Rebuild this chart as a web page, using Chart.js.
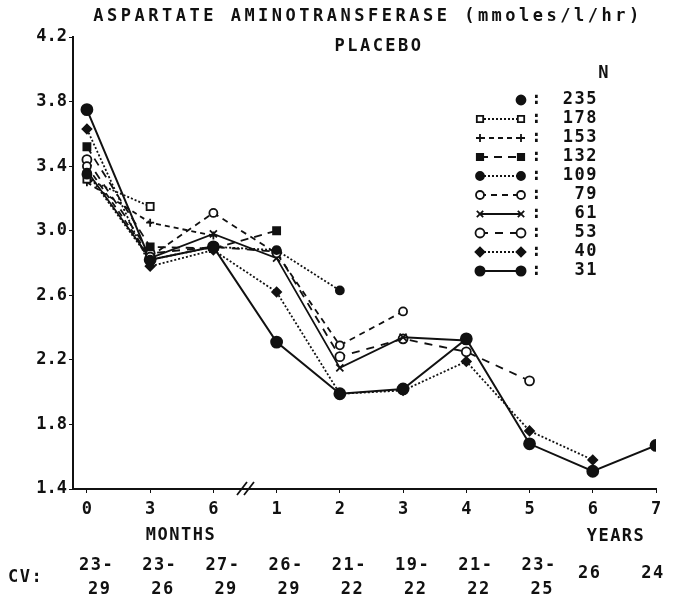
<!DOCTYPE html>
<html>
<head>
<meta charset="utf-8">
<script src="https://cdn.jsdelivr.net/npm/chart.js@4"></script>
<style>
  body { margin: 0; background: #fff; }
  canvas { display: block; }
</style>
</head>
<body>
<canvas id="astChart" width="676" height="605"></canvas>
<script>
// time points: 0, 3, 6 months then 1..7 years
const timeLabels = ['0', '3', '6', '1', '2', '3', '4', '5', '6', '7'];
const cvTop = ['23-', '23-', '27-', '26-', '21-', '19-', '21-', '23-', '26', '24'];
const cvBottom = ['29', '26', '29', '29', '22', '22', '22', '25', '', ''];

// mean AST per cohort (N = number of patients)
const cohortN = ['235', '178', '153', '132', '109', '79', '61', '53', '40', '31'];
const n235 = [3.35];
const n178 = [3.32, 3.15];
const n153 = [3.30, 3.05, 2.97];
const n132 = [3.52, 2.90, 2.89, 3.00];
const n109 = [3.36, 2.82, 2.90, 2.88, 2.63];
const n79 = [3.40, 2.84, 3.11, 2.86, 2.29, 2.50];
const n61 = [3.37, 2.83, 2.98, 2.83, 2.15, 2.34, 2.32];
const n53 = [3.44, 2.86, 2.90, 2.87, 2.22, 2.33, 2.25, 2.07];
const n40 = [3.63, 2.78, 2.88, 2.62, 1.99, 2.01, 2.19, 1.76, 1.58];
const n31 = [3.75, 2.82, 2.90, 2.31, 1.99, 2.02, 2.33, 1.68, 1.51, 1.67];

const FONT = '"DejaVu Sans Mono", monospace';
const INK = '#111';

function series(label, values, style) {
    return Object.assign({
        label: label,
        data: values.map((v, i) => ({ x: i, y: v })),
        borderColor: INK,
        backgroundColor: INK,
        pointBorderColor: INK,
        pointBackgroundColor: INK,
        borderWidth: 1.8,
        pointBorderWidth: 1.8,
        tension: 0
    }, style);
}

const datasets = [
    series('235', n235, { pointStyle: 'circle', pointRadius: 4.5, showLine: false }),
    series('178', n178, { pointStyle: 'rect', pointRadius: 5, pointBackgroundColor: '#fff', borderDash: [2, 2] }),
    series('153', n153, { pointStyle: 'cross', pointRadius: 4, borderDash: [5, 4] }),
    series('132', n132, { pointStyle: 'rect', pointRadius: 5, borderDash: [8, 6] }),
    series('109', n109, { pointStyle: 'circle', pointRadius: 4, borderDash: [2, 2] }),
    series('79', n79, { pointStyle: 'circle', pointRadius: 4, pointBackgroundColor: '#fff', borderDash: [6, 5] }),
    series('61', n61, { pointStyle: 'crossRot', pointRadius: 5 }),
    series('53', n53, { pointStyle: 'circle', pointRadius: 4.5, pointBackgroundColor: '#fff', borderDash: [8, 7] }),
    series('40', n40, { pointStyle: 'rectRot', pointRadius: 4.5, borderDash: [2, 2] }),
    series('31', n31, { pointStyle: 'circle', pointRadius: 5.5, borderWidth: 2 })
];

const textPlugin = {
    id: 'plotText',
    afterDraw(chart) {
        const ctx = chart.ctx;
        const xs = chart.scales.x;
        const axisY = chart.chartArea.bottom;
        ctx.save();
        ctx.fillStyle = INK;
        ctx.strokeStyle = INK;
        ctx.textBaseline = 'middle';

        // titles
        ctx.font = 'bold 17px ' + FONT;
        ctx.textAlign = 'center';
        ctx.letterSpacing = '3.5px';
        ctx.fillText('ASPARTATE AMINOTRANSFERASE (mmoles/l/hr)', 368, 17);
        ctx.letterSpacing = '2.5px';
        ctx.fillText('PLACEBO', 379, 47);

        // axis captions
        ctx.letterSpacing = '1.5px';
        ctx.fillText('MONTHS', 181, 536);
        ctx.fillText('YEARS', 616, 537);

        // CV rows
        ctx.letterSpacing = '1.5px';
        ctx.textAlign = 'left';
        ctx.fillText('CV:', 8, 578);
        cvTop.forEach((t, i) => {
            const px = xs.getPixelForValue(i);
            if (cvBottom[i]) {
                ctx.fillText(t, px - 8, 566);
                ctx.fillText(cvBottom[i], px + 1, 590);
            } else {
                ctx.textAlign = 'center';
                ctx.fillText(t, px - 3, 574);
                ctx.textAlign = 'left';
            }
        });

        // axis break between months and years
        const bx = xs.getPixelForValue(2.5);
        ctx.lineWidth = 1.8;
        ctx.beginPath();
        ctx.moveTo(bx - 8, axisY + 6); ctx.lineTo(bx + 2, axisY - 7);
        ctx.moveTo(bx - 1, axisY + 6); ctx.lineTo(bx + 9, axisY - 7);
        ctx.stroke();

        // legend
        ctx.letterSpacing = '1.5px';
        ctx.textAlign = 'center';
        ctx.fillText('N', 604, 74);
        chart.data.datasets.forEach((ds, i) => {
            const y = 100 + i * 19;
            const x0 = 480, x1 = 521;
            const pt = {
                pointStyle: ds.pointStyle,
                radius: Math.min(ds.pointRadius, 4.5),
                borderWidth: ds.pointBorderWidth,
                rotation: 0
            };
            if (ds.showLine !== false) {
                ctx.lineWidth = ds.borderWidth;
                ctx.setLineDash(ds.borderDash || []);
                ctx.beginPath();
                ctx.moveTo(x0, y);
                ctx.lineTo(x1, y);
                ctx.stroke();
                ctx.setLineDash([]);
                ctx.fillStyle = ds.pointBackgroundColor;
                Chart.helpers.drawPoint(ctx, pt, x0, y);
            }
            ctx.fillStyle = ds.pointBackgroundColor;
            Chart.helpers.drawPoint(ctx, pt, x1, y);
            ctx.fillStyle = INK;
            ctx.textAlign = 'center';
            ctx.fillText(':', 537, y);
            ctx.textAlign = 'right';
            ctx.fillText(ds.label, 598, y);
        });
        ctx.restore();
    }
};

new Chart(document.getElementById('astChart').getContext('2d'), {
    type: 'line',
    data: { datasets: datasets },
    options: {
        responsive: false,
        animation: false,
        devicePixelRatio: 1,
        layout: { padding: { top: 37, right: 20, left: 0, bottom: 0 } },
        plugins: { legend: { display: false }, tooltip: { enabled: false } },
        scales: {
            x: {
                type: 'linear',
                min: -0.22,
                max: 9,
                afterBuildTicks: s => { s.ticks = timeLabels.map((_, i) => ({ value: i })); },
                afterFit: s => { s.height = 116; },
                ticks: {
                    callback: v => timeLabels[Math.round(v)],
                    font: { family: FONT, size: 17, weight: 'bold' },
                    color: INK,
                    padding: 6,
                    maxRotation: 0,
                    autoSkip: false
                },
                grid: { drawOnChartArea: false, tickLength: 4, color: INK },
                border: { color: INK, width: 2 }
            },
            y: {
                min: 1.4,
                max: 4.2,
                afterFit: s => { s.width = 73; },
                ticks: {
                    stepSize: 0.4,
                    callback: v => v.toFixed(1),
                    font: { family: FONT, size: 17, weight: 'bold' },
                    color: INK,
                    padding: 2
                },
                grid: { drawOnChartArea: false, tickLength: 4, color: INK },
                border: { color: INK, width: 2 }
            }
        }
    },
    plugins: [textPlugin]
});
</script>
</body>
</html>
